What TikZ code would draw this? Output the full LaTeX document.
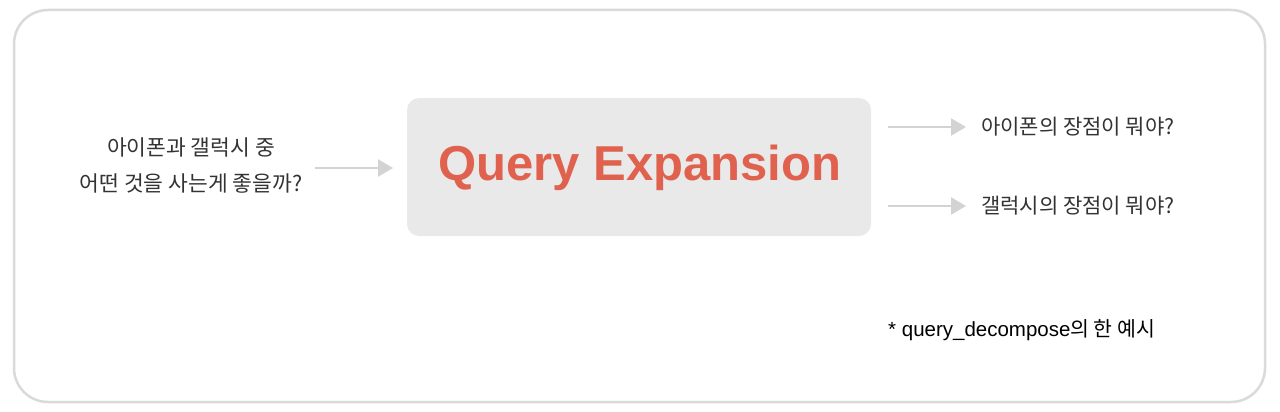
\documentclass[tikz,border=0pt]{standalone}
\usepackage{fontspec}
\setmainfont{Liberation Sans}
\newfontfamily\kr{Noto Sans CJK KR}
\newfontfamily\lat{Liberation Sans}
\usetikzlibrary{arrows.meta}
\definecolor{framegray}{HTML}{DADADA}
\definecolor{boxgray}{HTML}{E9E9E9}
\definecolor{qred}{HTML}{E0624E}
\definecolor{txt}{HTML}{333333}
\definecolor{arrgray}{HTML}{D3D3D3}
\tikzset{
  kortext/.style={font=\kr\fontsize{21}{24}\selectfont, text=txt, inner sep=0pt},
  flow/.style={draw=arrgray, line width=2.4pt, -{Triangle[length=15pt,width=17pt]}},
}
\begin{document}
\begin{tikzpicture}[x=1pt,y=-1pt]
\useasboundingbox (0,0) rectangle (1280,412);
\fill[white] (0,0) rectangle (1280,412);
\draw[framegray, line width=2.5pt, rounded corners=34pt] (14,10) rectangle (1265,402);
\node[fill=boxgray, rounded corners=12pt, minimum width=464pt, minimum height=138pt, inner sep=0pt] (qe) at (639,167) {};
\node[font=\lat\bfseries\fontsize{49}{55}\selectfont, text=qred, inner sep=0pt] (qet) at (640,168) {Query Expansion};
\node[kortext, align=center, font=\kr\fontsize{21.5}{36}\selectfont] (src) at (191,166) {아이폰과 갤럭시 중\\어떤 것을 사는게 좋을까?};
\coordinate (a1s) at (315,168);
\coordinate (a1e) at (393,168);
\draw[flow] (a1s) -- (a1e);
\coordinate (a2s) at (888,127);
\coordinate (a2e) at (966,127);
\coordinate (a3s) at (888,206);
\coordinate (a3e) at (966,206);
\draw[flow] (a2s) -- (a2e);
\draw[flow] (a3s) -- (a3e);
\node[kortext, anchor=west] (o1) at (981,127) {아이폰의 장점이 뭐야?};
\node[kortext, anchor=west] (o2) at (981,206) {갤럭시의 장점이 뭐야?};
\node[anchor=west, inner sep=0pt, text=black] (note) at (888,330) {\lat\fontsize{20.5}{22}\selectfont * query\_decompose\kr 의 한 예시};
\end{tikzpicture}
\end{document}
